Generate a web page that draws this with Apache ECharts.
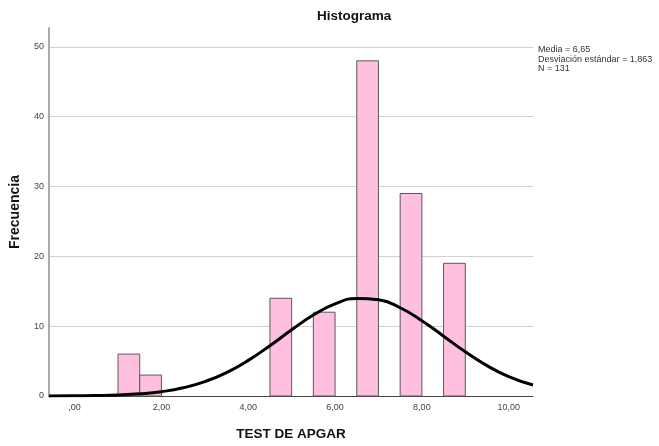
<!DOCTYPE html>
<html>
<head>
<meta charset="utf-8">
<script src="https://cdn.jsdelivr.net/npm/echarts@6/dist/echarts.min.js"></script>
<style>html,body{margin:0;padding:0;background:#fff}#c{width:659px;height:446px}</style>
</head>
<body>
<div id="c"></div>
<script>
// Histogram bins (TEST DE APGAR)
var binStart = [1.0, 1.5, 4.5, 5.5, 6.5, 7.5, 8.5];
var binEnd   = [1.5, 2.0, 5.0, 6.0, 7.0, 8.0, 9.0];
var counts   = [6, 3, 14, 12, 48, 29, 19];
// Normal curve
var curveX = [-0.59, 0, 0.5, 1, 1.5, 2, 2.5, 3, 3.5, 4, 4.5, 5, 5.5, 6, 6.5, 7, 7.5, 8, 8.5, 9, 9.5, 10, 10.56];
var curveY = [0.01, 0.02, 0.06, 0.14, 0.31, 0.62, 1.17, 2.06, 3.36, 5.1, 7.21, 9.48, 11.6, 13.2, 13.98, 13.78, 12.64, 10.79, 8.57, 6.33, 4.35, 2.79, 1.58];
var xTicks = [0, 2, 4, 6, 8, 10];
var yTicks = [0, 10, 20, 30, 40, 50];
var statsLines = ['Media = 6,65', 'Desviación estándar = 1,863', 'N = 131'];

var barData = binStart.map(function (s, i) { return [s, binEnd[i], counts[i]]; });
var curveData = curveX.map(function (x, i) { return [x, curveY[i]]; });

var chart = echarts.init(document.getElementById('c'));
chart.setOption({
  animation: false,
  textStyle: { fontFamily: 'Liberation Sans, Arial, sans-serif' },
  grid: { left: 49, right: 126, top: 28, bottom: 47, containLabel: false },
  xAxis: {
    type: 'value', min: -0.59, max: 10.56,
    name: 'TEST DE APGAR', nameLocation: 'middle', nameGap: 31,
    nameTextStyle: { fontSize: 13.5, fontWeight: 'bold', color: '#111' },
    axisLine: { show: true, onZero: false, lineStyle: { color: '#444', width: 1.2 } },
    axisTick: { show: false },
    splitLine: { show: false },
    axisLabel: {
      customValues: xTicks, margin: 7, fontSize: 9, color: '#444',
      formatter: function (v) { return v === 0 ? ',00' : v.toFixed(2).replace('.', ','); }
    }
  },
  yAxis: {
    type: 'value', min: 0, max: 52.7, interval: 10,
    name: 'Frecuencia', nameLocation: 'middle', nameGap: 27,
    nameTextStyle: { fontSize: 14, fontWeight: 'bold', color: '#111' },
    axisLine: { show: true, onZero: false, lineStyle: { color: '#aaa', width: 2 } },
    axisTick: { show: false },
    splitLine: { show: true, showMinLine: false, showMaxLine: false, lineStyle: { color: '#d0d0d0', width: 1 } },
    axisLabel: { customValues: yTicks, margin: 5, fontSize: 9, color: '#444' }
  },
  graphic: [
    { type: 'text', left: 317, top: 9, style: { text: 'Histograma', fontSize: 13.5, fontWeight: 'bold', fill: '#111', fontFamily: 'Liberation Sans, Arial, sans-serif' } },
    { type: 'text', left: 538, top: 45, style: { text: statsLines.join('\n'), fontSize: 9, lineHeight: 9.5, fill: '#333', fontFamily: 'Liberation Sans, Arial, sans-serif' } }
  ],
  series: [
    {
      type: 'custom',
      data: barData,
      encode: { x: [0, 1], y: 2 },
      renderItem: function (params, api) {
        var p0 = api.coord([api.value(0), api.value(2)]);
        var p1 = api.coord([api.value(1), 0]);
        return {
          type: 'rect',
          shape: { x: p0[0], y: p0[1], width: p1[0] - p0[0], height: p1[1] - p0[1] },
          style: { fill: '#ffc0df', stroke: '#5a5a5a', lineWidth: 1 }
        };
      }
    },
    {
      type: 'line', data: curveData, smooth: true, symbol: 'none', z: 5,
      lineStyle: { color: '#000', width: 3 }
    }
  ]
});
</script>
</body>
</html>
